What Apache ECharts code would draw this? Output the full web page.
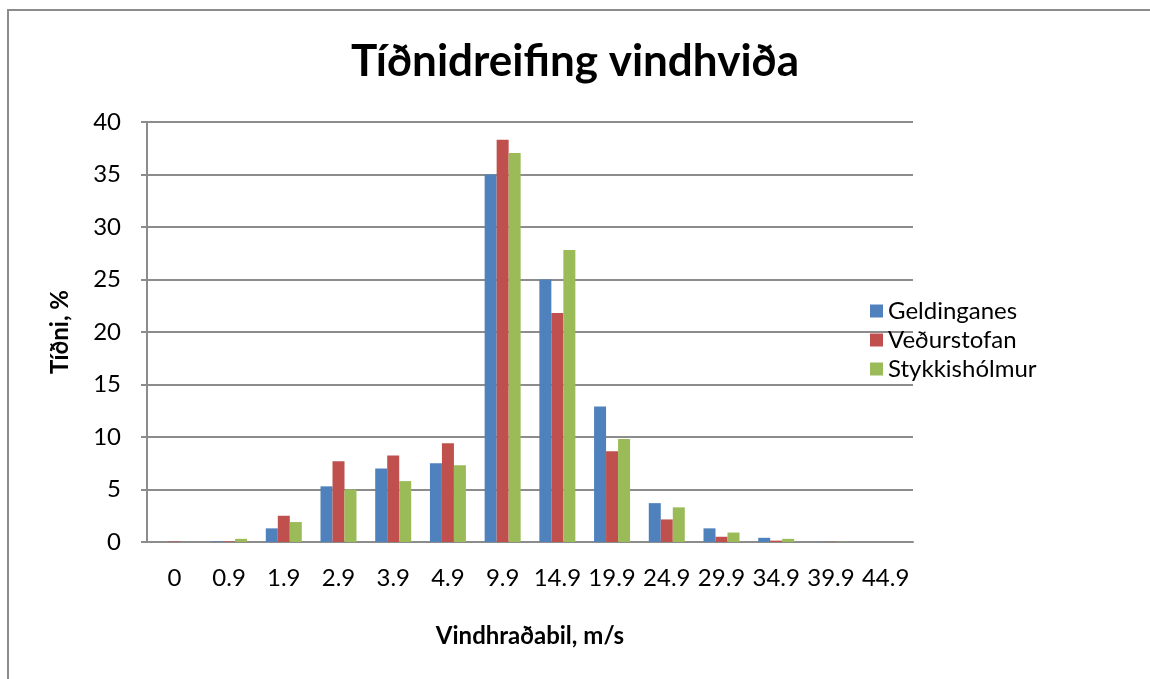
<!DOCTYPE html>
<html lang="is" style="height: 100%">

<head>
  <meta charset="utf-8">
</head>

<body style="height: 100%; margin: 0; background: #fff">
  <div id="container" style="width: 1150px; height: 679px"></div>

  <script type="text/javascript" src="https://cdn.jsdelivr.net/npm/echarts@6/dist/echarts.min.js"></script>

  <script type="text/javascript">
    // Vindhraðabil (m/s) og tíðni vindhviða í %
    var categories = ['0', '0.9', '1.9', '2.9', '3.9', '4.9', '9.9', '14.9', '19.9', '24.9', '29.9', '34.9', '39.9', '44.9'];
    var geldinganes = [0, 0.05, 1.3, 5.3, 7.0, 7.5, 35.0, 25.0, 12.9, 3.7, 1.3, 0.4, 0.02, 0];
    var vedurstofan = [0.05, 0.05, 2.5, 7.7, 8.25, 9.4, 38.3, 21.8, 8.65, 2.15, 0.5, 0.13, 0.02, 0];
    var stykkisholmur = [0, 0.3, 1.9, 5.0, 5.8, 7.3, 37.05, 27.8, 9.8, 3.3, 0.9, 0.3, 0.02, 0];
    var seriesNames = ['Geldinganes', 'Veðurstofan', 'Stykkishólmur'];

    var dom = document.getElementById('container');
    var myChart = echarts.init(dom, null, { renderer: 'canvas' });
    var font = 'Lato, "Open Sans", sans-serif';
    var gray = '#8c8c8c';

    function bar(name, data, color) {
      return {
        name: name,
        type: 'bar',
        data: data,
        barWidth: 12,
        barGap: '0%',
        itemStyle: { color: color },
        animation: false
      };
    }

    var option = {
      animation: false,
      backgroundColor: '#fff',
      textStyle: { fontFamily: font, color: '#000' },
      graphic: [{
        type: 'rect',
        shape: { x: 8, y: 10, width: 1200, height: 700 },
        style: { fill: 'none', stroke: gray, lineWidth: 2 },
        silent: true
      }],
      title: {
        text: 'Tíðnidreifing vindhviða',
        left: 'center',
        top: 35,
        textStyle: { fontFamily: font, fontSize: 44, fontWeight: 'bold', color: '#000' }
      },
      legend: {
        orient: 'vertical',
        left: 865,
        top: 294,
        itemWidth: 13,
        itemHeight: 13,
        itemGap: 5,
        icon: 'rect',
        textStyle: { fontFamily: font, fontSize: 24, color: '#000' },
        data: seriesNames
      },
      grid: {
        left: 147,
        right: 237,
        top: 122,
        bottom: 137,
        containLabel: false
      },
      xAxis: {
        type: 'category',
        data: categories,
        name: 'Vindhraðabil, m/s',
        nameLocation: 'middle',
        nameGap: 82,
        nameTextStyle: { fontFamily: font, fontSize: 24, fontWeight: 'bold', color: '#000' },
        axisLine: { lineStyle: { color: gray, width: 2 } },
        axisTick: { length: 8, lineStyle: { color: gray, width: 2 } },
        axisLabel: { interval: 0, margin: 24, fontSize: 24, color: '#000', fontFamily: font }
      },
      yAxis: {
        type: 'value',
        min: 0,
        max: 40,
        interval: 5,
        name: 'Tíðni, %',
        nameLocation: 'middle',
        nameGap: 75,
        nameTextStyle: { fontFamily: font, fontSize: 24, fontWeight: 'bold', color: '#000' },
        axisLine: { show: true, lineStyle: { color: gray, width: 2 } },
        axisTick: { show: true, length: 6, lineStyle: { color: gray, width: 2 } },
        axisLabel: { margin: 26, fontSize: 24, color: '#000', fontFamily: font },
        splitLine: { lineStyle: { color: gray, width: 2 } }
      },
      series: [
        bar(seriesNames[0], geldinganes, '#4f81bd'),
        bar(seriesNames[1], vedurstofan, '#c0504d'),
        bar(seriesNames[2], stykkisholmur, '#9bbb59')
      ]
    };

    myChart.setOption(option);
    window.addEventListener('resize', myChart.resize);
  </script>
</body>

</html>
